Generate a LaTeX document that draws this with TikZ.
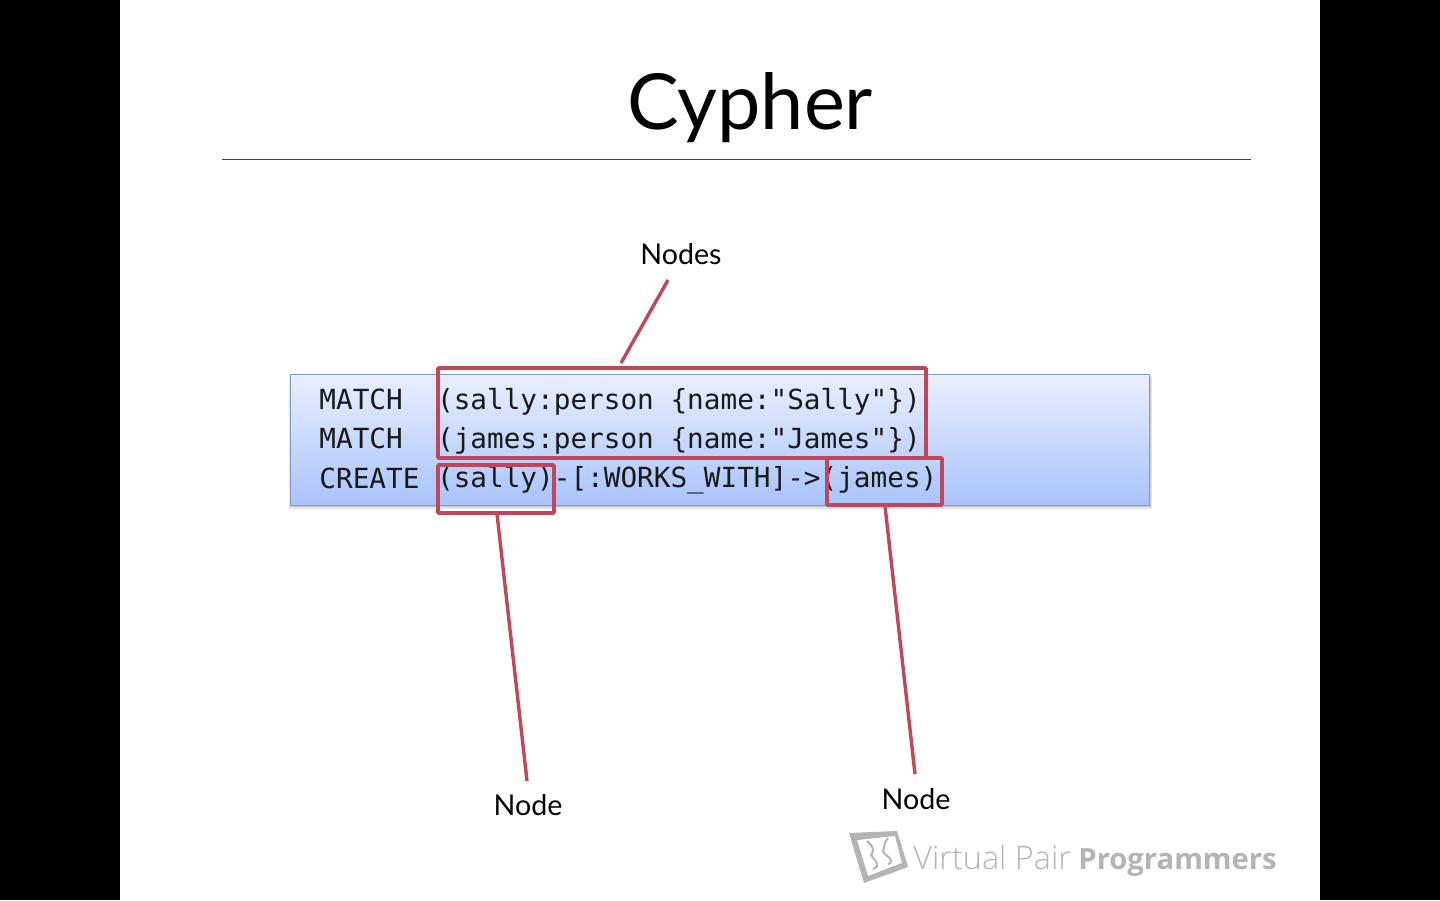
\documentclass[tikz,border=0pt]{standalone}
\usepackage{fontspec}
\usepackage{xcolor}
\setmainfont{Lato}
\newfontfamily\codefont{DejaVu Sans Mono}
\newfontfamily\logofont{Open Sans Light}
\newfontfamily\logobold{Open Sans}[BoldFont={Open Sans Bold}]
\usetikzlibrary{calc,shadows}
\definecolor{redline}{HTML}{C0475A}
\definecolor{boxtop}{HTML}{E9EEFD}
\definecolor{boxbot}{HTML}{A9C3FB}
\definecolor{boxedge}{HTML}{7F9DC4}
\definecolor{logogray}{HTML}{B4B4B4}
\tikzset{
  x=0.5pt,y=-0.5pt,
  codeline/.style={inner sep=0pt,anchor=base west,font=\codefont\fontsize{13.85}{16}\selectfont,text=black!90},
  callout/.style={inner sep=0pt,anchor=base,font=\fontsize{14.3}{18}\selectfont,text=black},
  redbox/.style={draw=redline,line width=1.8pt,inner sep=0pt,fill=none,rounded corners=0.5pt},
  redlink/.style={draw=redline,line width=1.7pt},
}
\begin{document}
\begin{tikzpicture}
\useasboundingbox (0,0) rectangle (1440,900);
\fill[black] (0,0) rectangle (1440,900);
\fill[white] (120,0) rectangle (1320,900);
\node[inner sep=0pt,anchor=base,font=\fontsize{38.7}{46}\selectfont] (title) at (750,129) {Cypher};
\draw[black!75,line width=0.6pt] (222,159.5) -- (1251,159.5);
% code box
\fill[black!10] (289,376) rectangle (1152,509);
\fill[black!22] (290,377) rectangle (1151,507);
\draw[draw=boxedge,line width=0.5pt,top color=boxtop,bottom color=boxbot] (290.5,374.5) rectangle (1149.5,505.5);
\node[codeline] (m1) at (319,409) {MATCH};
\node[codeline] (m2) at (319,448) {MATCH};
\node[codeline] (c3) at (319,488) {CREATE};
\node[codeline] (l1) at (436.7,409) {(sally:person \{name:"Sally"\})};
\node[codeline] (l2) at (436.7,448) {(james:person \{name:"James"\})};
\node[codeline] (l3) at (436.7,487.5) {(sally)-[:WORKS\_WITH]->(james)};
% red boxes
\draw[redbox] (438,368) rectangle (926,458);
\draw[redbox] (438,465) rectangle (554,513);
\draw[redbox] (827,458) rectangle (942,505);
% labels
\node[callout] (lblNodes) at (681,264) {Nodes};
\node[callout] (lblSally) at (528,815) {Node};
\node[callout] (lblJames) at (916,809) {Node};
\coordinate (endNodes) at (668,280);
\coordinate (startNodes) at (621,363);
\coordinate (endSally) at (527,781);
\coordinate (startSally) at (497,514);
\coordinate (endJames) at (915,774);
\coordinate (startJames) at (885,506);
\draw[redlink] (endNodes) -- (startNodes);
\draw[redlink] (startSally) -- (endSally);
\draw[redlink] (startJames) -- (endJames);
% logo
\fill[logogray,even odd rule] (849,833) -- (897,831) -- (908,867) -- (864,883) -- cycle
  (857,840) -- (895,836) -- (902,863) -- (868,876) -- cycle;
\draw[logogray,line width=1pt] (867,841) .. controls (873,846) and (875,850) .. (871,855) .. controls (874,860) and (878,862) .. (877,866) .. controls (876,868) and (875,868) .. (873,869);
\draw[logogray,line width=1pt] (888,838) .. controls (884,842) and (885,846) .. (883,851) .. controls (885,856) and (891,857) .. (891,861) .. controls (891,863) and (890,864) .. (888,864);
\node[inner sep=0pt,anchor=base west,text=logogray,font=\logofont\fontsize{16.2}{20}\selectfont] (vp) at (913,869) {Virtual Pair};
\node[inner sep=0pt,anchor=base west,text=logogray,font=\logobold\bfseries\fontsize{14.6}{20}\selectfont] (pg) at (1078,869) {Programmers};
\end{tikzpicture}
\end{document}
